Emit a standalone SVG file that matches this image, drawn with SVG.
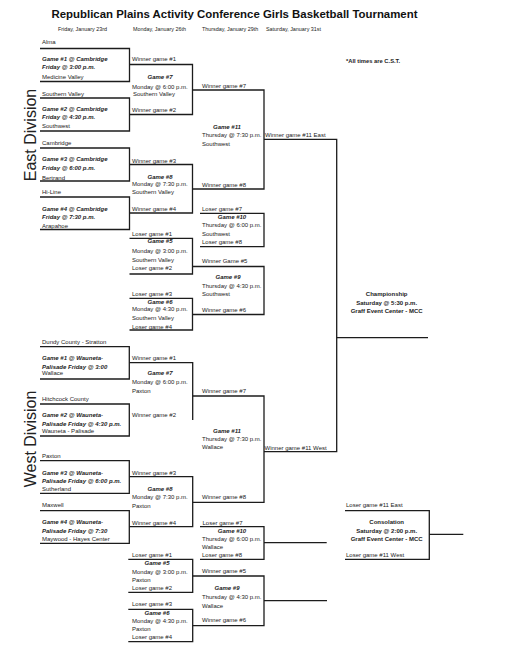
<svg xmlns="http://www.w3.org/2000/svg" width="509" height="670" viewBox="0 0 509 670">
<style>
text{font-family:"Liberation Sans",Arial,sans-serif;font-size:6px;fill:#222}
.bi{font-weight:bold;font-style:italic}
.b{font-weight:bold}
.c{text-anchor:middle}
.d{font-size:5.4px}
.ttl{font-size:11.4px;font-weight:bold;fill:#111}
.div{font-size:16px;fill:#222}
.ln{stroke:#1c1c1c;stroke-width:1.3;fill:none}
</style>
<rect width="509" height="670" fill="#fff"/>
<g id="header">
<text class="ttl" x="51.5" y="18" textLength="366" lengthAdjust="spacingAndGlyphs">Republican Plains Activity Conference Girls Basketball Tournament</text>
<text class="d" x="58" y="31">Friday, January 23rd</text>
<text class="d" x="133" y="31">Monday, January 26th</text>
<text class="d" x="202" y="31">Thursday, January 29th</text>
<text class="d" x="266" y="31">Saturday, January 31st</text>
<text class="b" x="346" y="62.7" style="font-size:5.8px">*All times are C.S.T.</text>
<text class="div c" transform="translate(36,135) rotate(-90)">East Division</text>
<text class="div c" transform="translate(36,439) rotate(-90)">West Division</text>
</g>
<g id="connectors">
<path class="ln" d="M336.7 337.7 H428"/>
<path class="ln" d="M429.3 534.3 H463.3"/>
<path class="ln" d="M264 542.7 H326.7"/>
<path class="ln" d="M264 600.7 H327"/>
</g>
<!-- EAST -->
<g id="east-g1">
<path class="ln" d="M40 48.5 H129.5 V81.5 H40"/>
<text x="42" y="44">Alma</text>
<text class="bi" x="42" y="61">Game #1 @ Cambridge</text>
<text class="bi" x="42" y="69">Friday @ 3:00 p.m.</text>
<text x="42" y="79">Medicine Valley</text>
</g>
<g id="east-g2">
<path class="ln" d="M40 98 H129.5 V131 H40"/>
<text x="42" y="95.5">Southern Valley</text>
<text class="bi" x="42" y="111">Game #2 @ Cambridge</text>
<text class="bi" x="42" y="119">Friday @ 4:30 p.m.</text>
<text x="42" y="127.5">Southwest</text>
</g>
<g id="east-g3">
<path class="ln" d="M40 148 H129.5 V181 H40"/>
<text x="42" y="145">Cambridge</text>
<text class="bi" x="42" y="161">Game #3  @ Cambridge</text>
<text class="bi" x="42" y="170">Friday @ 6:00 p.m.</text>
<text x="42" y="179.5">Bertrand</text>
</g>
<g id="east-g4">
<path class="ln" d="M40 197 H129.5 V229.5 H40"/>
<text x="42" y="194">Hi-Line</text>
<text class="bi" x="42" y="211">Game #4  @ Cambridge</text>
<text class="bi" x="42" y="218.7">Friday @ 7:30 p.m.</text>
<text x="42" y="227.5">Arapahoe</text>
</g>
<g id="east-g7">
<path class="ln" d="M129.5 64.5 H192.5 V114.5 H129.5"/>
<text x="132" y="61.3">Winner game #1</text>
<text class="bi c" x="160" y="78.7">Game #7</text>
<text x="132" y="88.7">Monday @ 6:00 p.m.</text>
<text x="133" y="96.3">Southern Valley</text>
<text x="132" y="112">Winner game #2</text>
</g>
<g id="east-g8">
<path class="ln" d="M129.5 164.5 H192.5 V213 H129.5"/>
<text x="132" y="162.7">Winner game #3</text>
<text class="bi c" x="160" y="178.7">Game #8</text>
<text x="132" y="186">Monday @ 7:30 p.m.</text>
<text x="132" y="194.3">Southern Valley</text>
<text x="132" y="211">Winner game #4</text>
</g>
<g id="east-g11">
<path class="ln" d="M192.5 90 H264 V189 H192.5"/>
<text x="202" y="88">Winner game #7</text>
<text class="bi c" x="227" y="128.7">Game #11</text>
<text x="202" y="137">Thursday @ 7:30 p.m.</text>
<text x="202" y="146.3">Southwest</text>
<text x="202" y="187">Winner game #8</text>
</g>
<g id="east-g10">
<path class="ln" d="M200 213.3 H264 V246.7 H200"/>
<text x="202" y="210.5">Loser game #7</text>
<text class="bi c" x="232" y="219.3">Game #10</text>
<text x="202" y="227">Thursday @ 6:00 p.m.</text>
<text x="202" y="236">Southwest</text>
<text x="202" y="243.7">Loser game #8</text>
</g>
<g id="east-g5">
<path class="ln" d="M129.5 238.3 H192.5 V274 H129.5"/>
<text x="132" y="236">Loser game #1</text>
<text class="bi c" x="160" y="243">Game #5</text>
<text x="132" y="252.7">Monday @ 3:00 p.m.</text>
<text x="132" y="262">Southern Valley</text>
<text x="132" y="270.3">Loser game #2</text>
</g>
<g id="east-g9">
<path class="ln" d="M192.5 266.5 H264 V314.5 H192.5"/>
<text x="202" y="263.3">Winner Game #5</text>
<text class="bi c" x="228" y="279.3">Game #9</text>
<text x="202" y="288">Thursday @ 4:30 p.m.</text>
<text x="202" y="296.3">Southwest</text>
<text x="202" y="311.5">Winner game #6</text>
</g>
<g id="east-g6">
<path class="ln" d="M129.5 298.3 H192.5 V330 H129.5"/>
<text x="132" y="296">Loser game #3</text>
<text class="bi c" x="160" y="303.7">Game #6</text>
<text x="132" y="311.3">Monday @ 4:30 p.m.</text>
<text x="132" y="320.3">Southern Valley</text>
<text x="132" y="328.7">Loser game #4</text>
</g>
<g id="championship">
<path class="ln" d="M264 139.3 H336.7 V451.7 H264"/>
<text x="265" y="137">Winner game #11 East</text>
<text x="264.5" y="449.7">Winner game #11 West</text>
<text class="b c" x="386.7" y="296.3">Championship</text>
<text class="b c" x="386.7" y="305.3">Saturday @ 5:30 p.m.</text>
<text class="b c" x="386.7" y="312.7">Graff Event Center - MCC</text>
</g>
<g id="consolation">
<path class="ln" d="M345 510.7 H429.3 V559.3 H345"/>
<text x="346" y="507">Loser game #11 East</text>
<text class="b c" x="386.7" y="523.7">Consolation</text>
<text class="b c" x="386.7" y="532.7">Saturday @ 2:00 p.m.</text>
<text class="b c" x="386.7" y="541.3">Graff Event Center - MCC</text>
<text x="346" y="557">Loser game #11 West</text>
</g>
<!-- WEST -->
<g id="west-g1">
<path class="ln" d="M40 346.7 H129.3 V379 H40"/>
<text x="42" y="343.7">Dundy County - Stratton</text>
<text class="bi" x="42" y="360.3">Game #1 @ Wauneta-</text>
<text class="bi" x="42" y="368.7">Palisade  Friday @ 3:00</text>
<text x="42" y="375.3">Wallace</text>
</g>
<g id="west-g2">
<path class="ln" d="M40 404 H129.3 V436 H40"/>
<text x="42" y="401.3">Hitchcock County</text>
<text class="bi" x="42" y="417">Game #2 @ Wauneta-</text>
<text class="bi" x="42" y="426">Palisade  Friday @ 4:30 p.m.</text>
<text x="42" y="432.7">Wauneta - Palisade</text>
</g>
<g id="west-g3">
<path class="ln" d="M40 460.7 H129.3 V493.3 H40"/>
<text x="42" y="458">Paxton</text>
<text class="bi" x="42" y="474.7">Game #3 @ Wauneta-</text>
<text class="bi" x="42" y="482.7">Palisade  Friday @ 6:00 p.m.</text>
<text x="42" y="491">Sutherland</text>
</g>
<g id="west-g4">
<path class="ln" d="M40 510.7 H129.3 V543.3 H40"/>
<text x="42" y="507">Maxwell</text>
<text class="bi" x="42" y="524.3">Game #4 @ Wauneta-</text>
<text class="bi" x="42" y="532.7">Palisade  Friday @ 7:30</text>
<text x="42" y="541">Maywood - Hayes Center</text>
</g>
<g id="west-g7">
<path class="ln" d="M129.3 362.7 H192.7 V420"/>
<text x="132" y="360.3">Winner game #1</text>
<text class="bi c" x="160" y="375.3">Game #7</text>
<text x="132" y="384.3">Monday @ 6:00 p.m.</text>
<text x="132" y="393">Paxton</text>
<text x="132" y="417">Winner game #2</text>
</g>
<g id="west-g8">
<path class="ln" d="M129.3 476.7 H192.7 V526.7 H129.3"/>
<text x="132" y="474.7">Winner game #3</text>
<text class="bi c" x="160" y="491">Game #8</text>
<text x="132" y="499.3">Monday @ 7:30 p.m.</text>
<text x="132" y="507.7">Paxton</text>
<text x="132" y="524.7">Winner game #4</text>
</g>
<g id="west-g11">
<path class="ln" d="M192.7 396 H264 V502.3 H192.7"/>
<text x="202" y="393">Winner game #7</text>
<text class="bi c" x="227" y="433">Game #11</text>
<text x="202" y="441.3">Thursday @ 7:30 p.m.</text>
<text x="202" y="449.3">Wallace</text>
<text x="202" y="499.3">Winner game #8</text>
</g>
<g id="west-g10">
<path class="ln" d="M200 526.7 H264 V559.3 H200"/>
<text x="202.5" y="524.7">Loser game #7</text>
<text class="bi c" x="232" y="532.7">Game #10</text>
<text x="202" y="541">Thursday @ 6:00 p.m.</text>
<text x="202" y="549.3">Wallace</text>
<text x="202" y="557">Loser game #8</text>
</g>
<g id="west-g5">
<path class="ln" d="M128.3 559.3 H192.7 V592.3 H128.3"/>
<text x="132" y="557">Loser game #1</text>
<text class="bi c" x="157" y="565.3">Game #5</text>
<text x="132" y="573.7">Monday @ 3:00 p.m.</text>
<text x="132" y="582">Paxton</text>
<text x="132" y="589.7">Loser game #2</text>
</g>
<g id="west-g9">
<path class="ln" d="M192.7 576 H264 V625.7 H192.7"/>
<text x="202" y="573">Winner game #5</text>
<text class="bi c" x="227" y="589.7">Game #9</text>
<text x="202" y="598.7">Thursday @ 4:30 p.m.</text>
<text x="202" y="607.7">Wallace</text>
<text x="202" y="622">Winner game #6</text>
</g>
<g id="west-g6">
<path class="ln" d="M128.3 609.3 H192.7 V641.7 H128.3"/>
<text x="132" y="606">Loser game #3</text>
<text class="bi c" x="157" y="614.7">Game #6</text>
<text x="132" y="622.7">Monday @ 4:30 p.m.</text>
<text x="132" y="631">Paxton</text>
<text x="132" y="638.7">Loser game #4</text>
</g>
</svg>
